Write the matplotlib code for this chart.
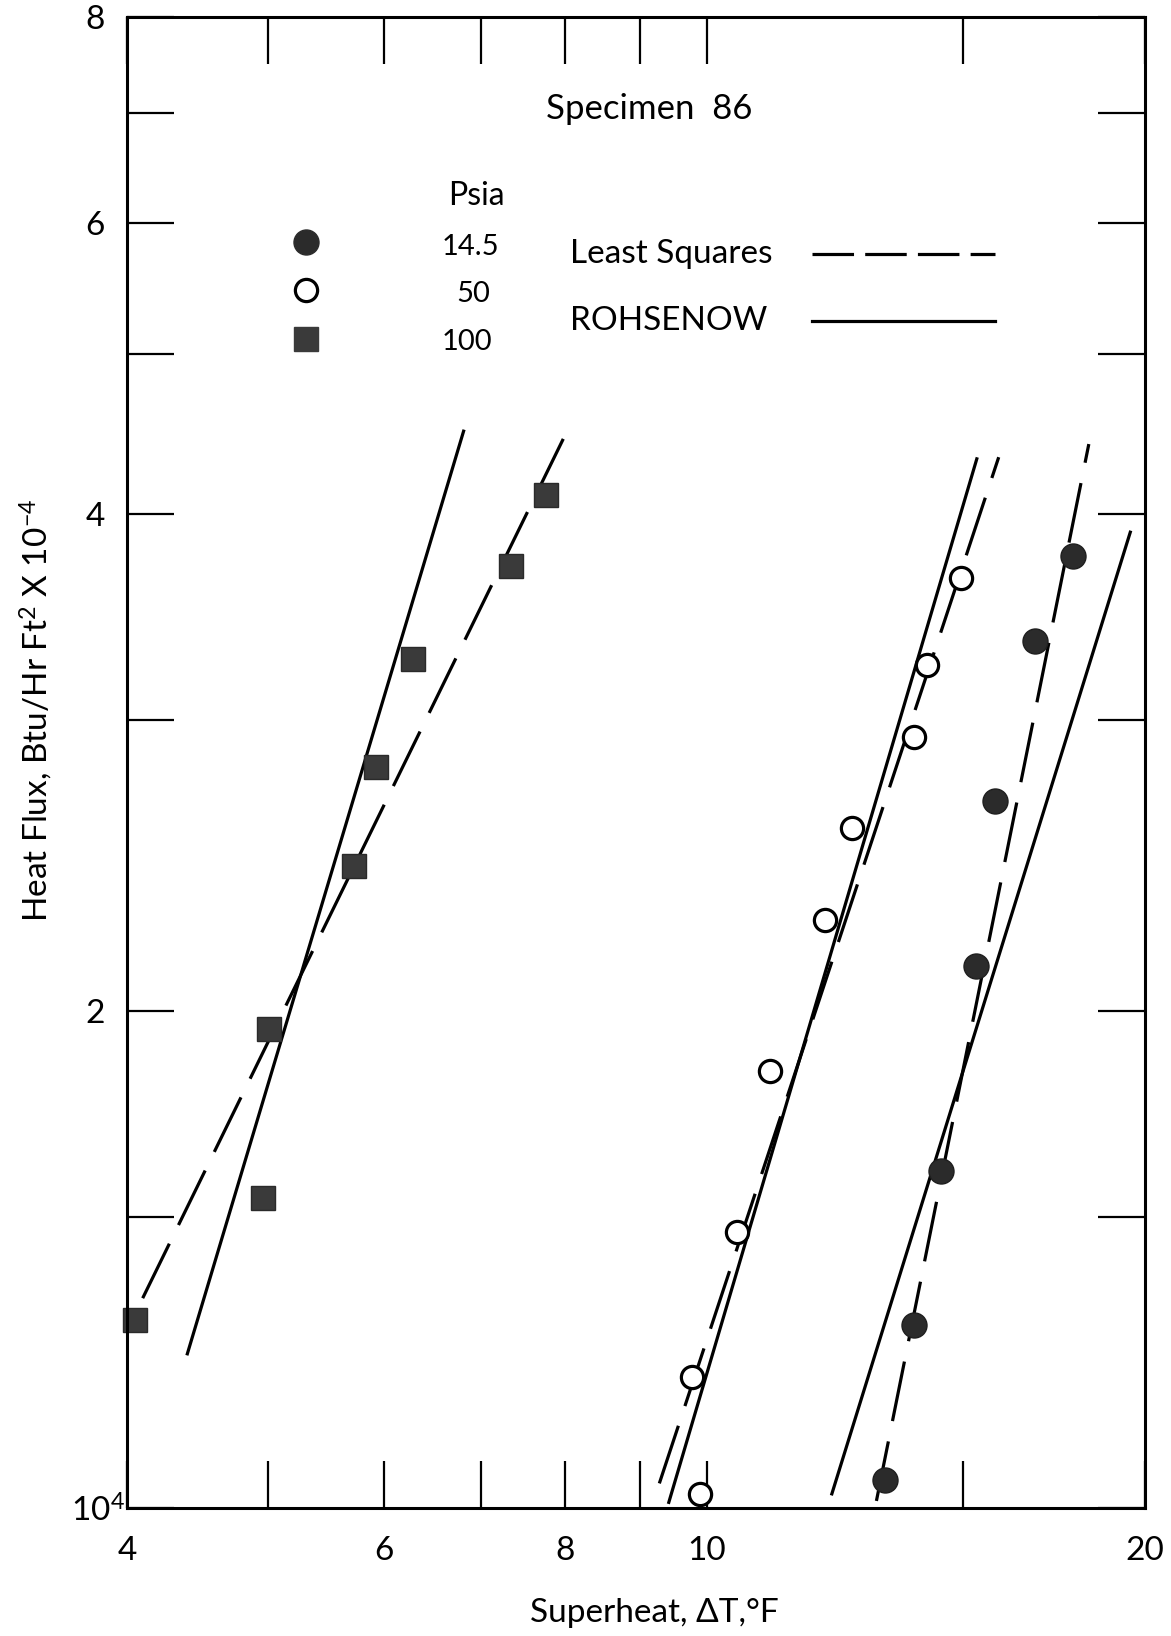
import matplotlib
matplotlib.use("Agg")
import matplotlib.pyplot as plt
from matplotlib.transforms import ScaledTranslation

plt.rcParams['font.family'] = ['Lato', 'DejaVu Sans']
plt.rcParams['mathtext.fontset'] = 'custom'
plt.rcParams['mathtext.rm'] = 'Lato'
plt.rcParams['mathtext.it'] = 'Lato'

# superheat (F) and heat flux (Btu/hr ft2 x 1e-4) for each pressure
dt_145 = [13.25, 13.87, 14.49, 15.31, 15.78, 16.8, 17.85]
q_145 = [1.04, 1.29, 1.60, 2.13, 2.68, 3.35, 3.77]

dt_50 = [9.90, 9.77, 10.5, 11.06, 12.05, 12.58, 13.87, 14.17, 14.96]
q_50 = [1.02, 1.20, 1.47, 1.84, 2.27, 2.58, 2.93, 3.24, 3.66]

dt_100 = [4.05, 4.96, 5.01, 5.73, 5.93, 6.29, 7.34, 7.76]
q_100 = [1.30, 1.54, 1.95, 2.45, 2.81, 3.27, 3.72, 4.11]

# fitted lines, end points (dt, q)
ls_100 = ([4.10, 8.03], [1.34, 4.50])
roh_100 = ([4.40, 6.81], [1.24, 4.49])
ls_50 = ([9.28, 15.87], [1.035, 4.33])
roh_50 = ([9.42, 15.33], [1.008, 4.32])
ls_145 = ([13.08, 18.3], [1.01, 4.41])
roh_145 = ([12.19, 19.54], [1.02, 3.90])

x_ticks = [4, 5, 6, 7, 8, 9, 10, 15, 20]
x_labels = ['4', '', '6', '', '8', '', '10', '', '20']
y_ticks = [1, 1.5, 2, 3, 4, 5, 6, 7, 8]
y_labels = ['10$\\mathregular{^4}$', '', '2', '', '4', '', '6', '', '8']

fig = plt.figure(figsize=(11.71, 16.36), dpi=100)
ax = fig.add_axes([0.1085, 0.0782, 0.8693, 0.9114])
ax.set_xscale('log')
ax.set_yscale('log')
ax.set_xlim(4, 20)
ax.set_ylim(1, 8)

dash = (0, (19, 6.5))
lw = 2.3
for xs, ys in [ls_100, ls_50, ls_145]:
    ax.plot(xs, ys, color='black', lw=lw, linestyle=dash)
for xs, ys in [roh_100, roh_50, roh_145]:
    ax.plot(xs, ys, color='black', lw=lw)

ax.plot(dt_145, q_145, 'o', ms=18, color='#2b2b2b', mec='#1e1e1e', clip_on=False)
ax.plot(dt_50, q_50, 'o', ms=16, mfc='white', mec='black', mew=2.3, clip_on=False)
ax.plot(dt_100, q_100, 's', ms=17.5, color='#3a3a3a', mec='#2a2a2a', clip_on=False)

ax.minorticks_off()
ax.set_xticks(x_ticks)
ax.set_xticklabels(x_labels)
ax.set_yticks(y_ticks)
ax.set_yticklabels(y_labels)
ax.tick_params(direction='in', length=34, width=1.6, top=True, right=True,
               labelsize=24, pad=16, color='black')
ax.tick_params(axis='x', pad=20)
for s in ax.spines.values():
    s.set_linewidth(2.2)

# nudge the 10^4 label toward the spine
lab = ax.get_yticklabels()[0]
lab.set_transform(lab.get_transform() + ScaledTranslation(0.2, 0, fig.dpi_scale_trans))

# key
tr = ax.transAxes
ax.text(0.513, 0.938, 'Specimen  86', transform=tr, ha='center', va='center', fontsize=25)
ax.text(0.343, 0.880, 'Psia', transform=tr, ha='center', va='center', fontsize=23)
ax.plot([0.176], [0.849], 'o', ms=18, color='#2b2b2b', transform=tr)
ax.plot([0.176], [0.817], 'o', ms=16, mfc='white', mec='black', mew=2.3, transform=tr)
ax.plot([0.176], [0.784], 's', ms=17.5, color='#3a3a3a', transform=tr)
ax.text(0.337, 0.846, '14.5', transform=tr, ha='center', va='center', fontsize=21)
ax.text(0.340, 0.814, '50', transform=tr, ha='center', va='center', fontsize=21)
ax.text(0.334, 0.782, '100', transform=tr, ha='center', va='center', fontsize=21)
ax.text(0.435, 0.841, 'Least Squares', transform=tr, ha='left', va='center', fontsize=24)
ax.text(0.435, 0.796, 'ROHSENOW', transform=tr, ha='left', va='center', fontsize=24)
ax.plot([0.673, 0.853], [0.841, 0.841], color='black', lw=lw,
        linestyle=(0, (13, 3.5)), transform=tr)
ax.plot([0.673, 0.853], [0.796, 0.796], color='black', lw=lw, transform=tr)

fig.text(0.031, 0.566, 'Heat Flux, Btu/Hr Ft$\\mathregular{^2}$ X 10$\\mathregular{^{-4}}$',
         rotation=90, ha='center', va='center', fontsize=24)
fig.text(0.559, 0.014, 'Superheat, ΔT,°F', ha='center', va='center', fontsize=24)

fig.savefig('out.png', dpi=100)
